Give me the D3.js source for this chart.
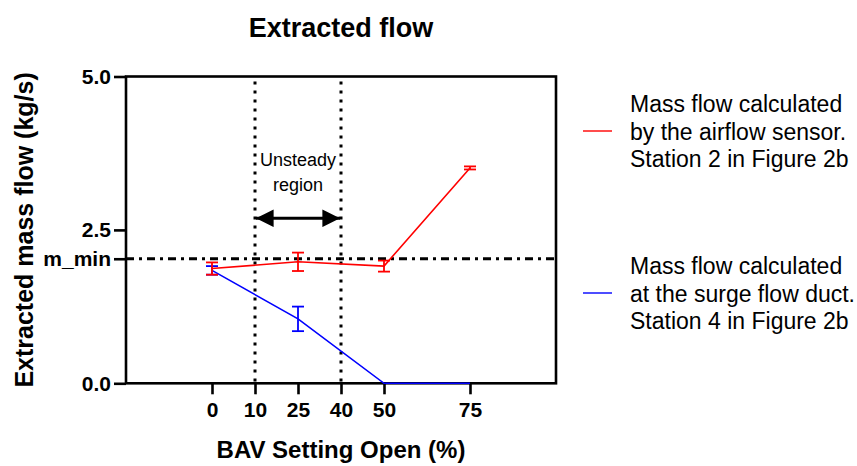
<!DOCTYPE html>
<html>
<head>
<meta charset="utf-8">
<title>Extracted flow</title>
<script src="https://cdn.jsdelivr.net/npm/d3@7"></script>
<style>
  body { margin: 0; background: #fff; }
  svg { font-family: "Liberation Sans", Arial, sans-serif; }
</style>
</head>
<body>
<div id="chart"></div>
<script>
// BAV setting categories (x) and the mass flow readings, kg/s
var settings = ["0", "10", "25", "40", "50", "75"];
var measured = ["0", "25", "50", "75"];

var sensorMean = [1.87, 1.98, 1.91, 3.51];   // station 2, airflow sensor
var sensorErr  = [0.10, 0.15, 0.09, 0.025];
var ductMean   = [1.84, 1.05, 0.0, 0.0];     // station 4, surge flow duct
var ductErr    = [0.07, 0.20, 0, 0];

var mMin = 2.03;
var unsteady = ["10", "40"];
var arrowLevel = 2.69;
var yTicks = [0, 2.5, 5];

var legendRed  = ["Mass flow calculated", "by the airflow sensor.", "Station 2 in Figure 2b"];
var legendBlue = ["Mass flow calculated", "at the surge flow duct.", "Station 4 in Figure 2b"];

var W = 857, H = 466;
var m = {left: 126, right: 556, top: 76.5, bottom: 383.3};

var svg = d3.select("#chart").append("svg")
    .attr("width", W).attr("height", H);

// the x axis is categorical with one empty slot before 75
var slot = d3.scaleOrdinal().domain(settings).range([2, 3, 4, 5, 6, 8]);
var xs = d3.scaleLinear().domain([0, 10]).range([m.left, m.right]);
var x = function(d) { return xs(slot(d)); };
var y = d3.scaleLinear().domain([0, 5]).range([m.bottom, m.top]);

// title
svg.append("text")
    .attr("x", (m.left + m.right) / 2).attr("y", 37)
    .attr("text-anchor", "middle")
    .style("font-size", "27px").style("font-weight", "bold")
    .text("Extracted flow");

// unsteady region
svg.selectAll(".vline").data(unsteady).enter().append("line")
    .attr("x1", x).attr("x2", x)
    .attr("y1", y(5) + 5).attr("y2", y(0))
    .attr("stroke", "#000").attr("stroke-width", 3)
    .attr("stroke-dasharray", "3,6");

svg.append("text")
    .attr("x", x("25")).attr("y", 166)
    .attr("text-anchor", "middle").style("font-size", "18px")
    .text("Unsteady");
svg.append("text")
    .attr("x", x("25")).attr("y", 191)
    .attr("text-anchor", "middle").style("font-size", "18px")
    .text("region");

var defs = svg.append("defs");
defs.append("marker").attr("id", "ah")
    .attr("viewBox", "0 0 10 10").attr("refX", 10).attr("refY", 5)
    .attr("markerWidth", 5.5).attr("markerHeight", 5.5)
    .attr("markerUnits", "strokeWidth")
    .attr("orient", "auto-start-reverse")
  .append("path").attr("d", "M0,0L10,5L0,10z").attr("fill", "#000");

svg.append("line")
    .attr("x1", x("10") + 1).attr("x2", x("40") - 1)
    .attr("y1", y(arrowLevel)).attr("y2", y(arrowLevel))
    .attr("stroke", "#000").attr("stroke-width", 3.2)
    .attr("marker-start", "url(#ah)").attr("marker-end", "url(#ah)");

// m_min reference line
svg.append("line")
    .attr("x1", m.left).attr("x2", m.right)
    .attr("y1", y(mMin)).attr("y2", y(mMin))
    .attr("stroke", "#000").attr("stroke-width", 3)
    .attr("stroke-dasharray", "8,5,3,5");

// frame
svg.append("rect")
    .attr("x", m.left).attr("y", m.top)
    .attr("width", m.right - m.left).attr("height", m.bottom - m.top)
    .attr("fill", "none").attr("stroke", "#000").attr("stroke-width", 2.6);

// axes
var yAxis = svg.append("g").attr("transform", "translate(" + m.left + ",0)")
    .call(d3.axisLeft(y).tickValues(yTicks.concat([mMin])).tickSize(12).tickPadding(3)
      .tickFormat(function(d) { return d === mMin ? "m_min" : d3.format(".1f")(d); }));
var xAxis = svg.append("g").attr("transform", "translate(0," + m.bottom + ")")
    .call(d3.axisBottom(xs).tickValues(settings.map(slot)).tickSize(11).tickPadding(8)
      .tickFormat(function(d, i) { return settings[i]; }));

[yAxis, xAxis].forEach(function(a) {
  a.select(".domain").remove();
  a.selectAll(".tick line").attr("stroke-width", 2.6);
  a.selectAll("text").attr("fill", "#000")
      .style("font-size", "21px").style("font-weight", "bold")
      .style("font-family", "'Liberation Sans', Arial, sans-serif");
});

// series, drawn over the frame
function series(means, errs, color) {
  var pts = measured.map(function(k, i) { return {k: k, v: means[i], e: errs[i]}; });
  var line = d3.line().x(function(d) { return x(d.k); }).y(function(d) { return y(d.v); });
  svg.append("path").datum(pts)
      .attr("d", line).attr("fill", "none")
      .attr("stroke", color).attr("stroke-width", 1.6);
  var eb = svg.append("g").selectAll("g").data(pts.filter(function(d) { return d.e > 0; }))
      .enter().append("g").attr("stroke", color).attr("stroke-width", 1.8);
  eb.append("line")
      .attr("x1", function(d) { return x(d.k); }).attr("x2", function(d) { return x(d.k); })
      .attr("y1", function(d) { return y(d.v - d.e); }).attr("y2", function(d) { return y(d.v + d.e); });
  [-1, 1].forEach(function(s) {
    eb.append("line")
        .attr("x1", function(d) { return x(d.k) - 6; }).attr("x2", function(d) { return x(d.k) + 6; })
        .attr("y1", function(d) { return y(d.v + s * d.e); })
        .attr("y2", function(d) { return y(d.v + s * d.e); });
  });
}
series(ductMean, ductErr, "#0000ff");
series(sensorMean, sensorErr, "#ff0000");

// axis titles
svg.append("text")
    .attr("x", (m.left + m.right) / 2).attr("y", 458)
    .attr("text-anchor", "middle")
    .style("font-size", "24px").style("font-weight", "bold")
    .text("BAV Setting Open (%)");
svg.append("text")
    .attr("transform", "translate(33," + (m.top + m.bottom) / 2 + ") rotate(-90)")
    .attr("text-anchor", "middle")
    .style("font-size", "25px").style("font-weight", "bold")
    .text("Extracted mass flow (kg/s)");

// legend
function legend(lines, color, cy) {
  svg.append("line")
      .attr("x1", 583).attr("x2", 612).attr("y1", cy).attr("y2", cy)
      .attr("stroke", color).attr("stroke-width", 1.6);
  svg.append("text")
      .attr("x", 630).attr("y", cy - 27 + 8)
      .style("font-size", "23px")
      .selectAll("tspan").data(lines).enter().append("tspan")
      .attr("x", 630).attr("dy", function(d, i) { return i ? 27.5 : 0; })
      .text(function(d) { return d; });
}
legend(legendRed, "#ff2020", 131);
legend(legendBlue, "#2020ff", 293);
</script>
</body>
</html>
